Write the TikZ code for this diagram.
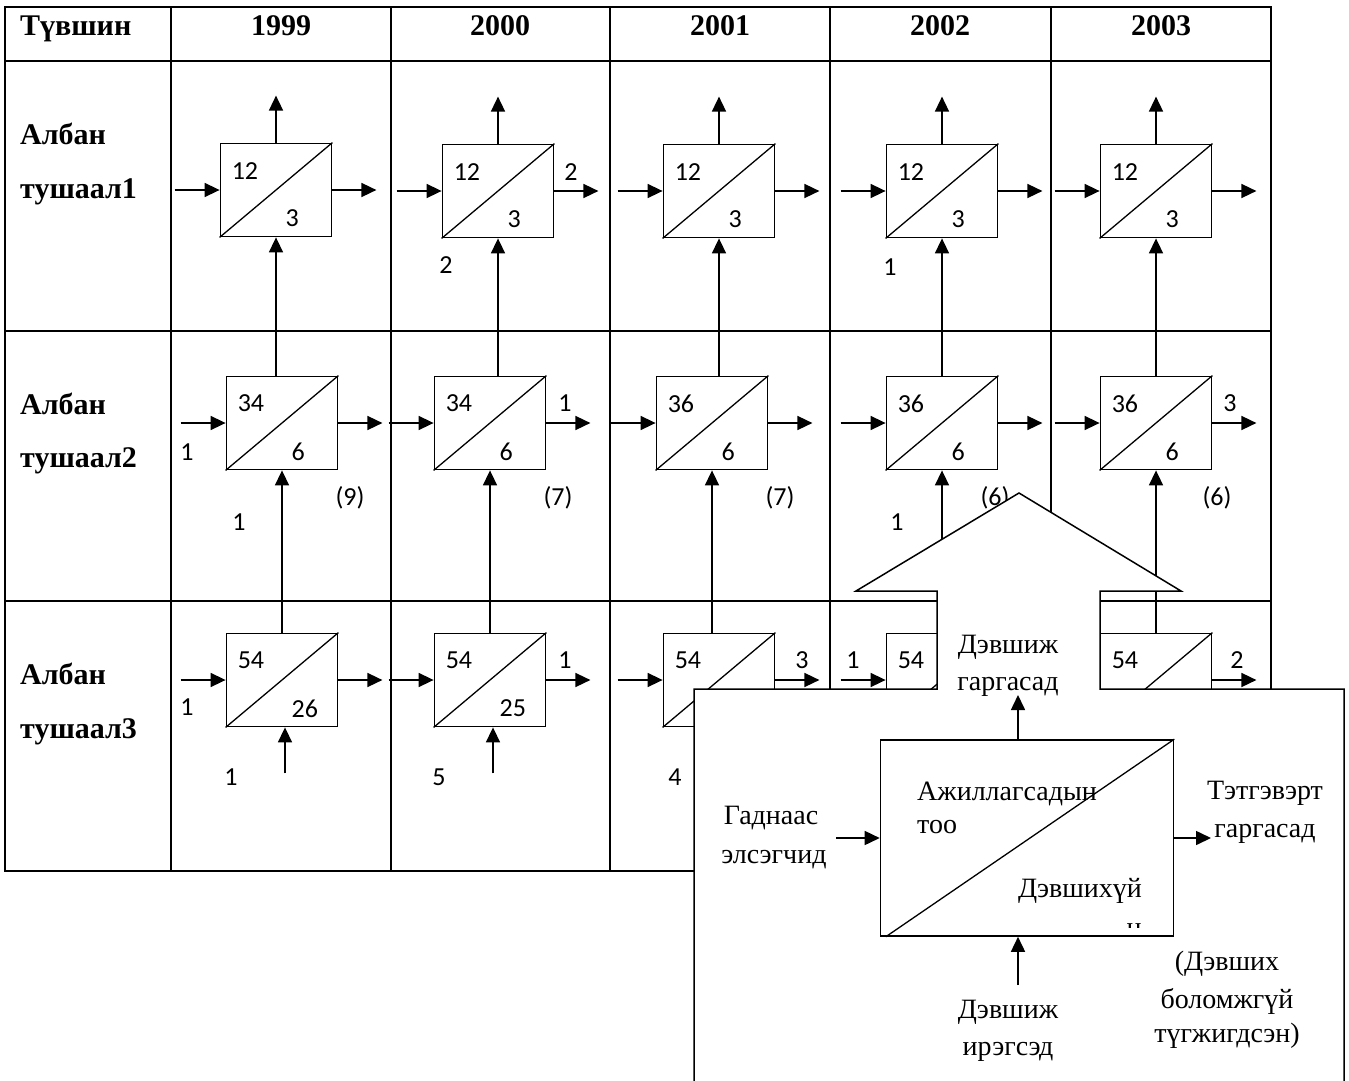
\documentclass[tikz,border=0pt]{standalone}
\usepackage{fontspec}
\setmainfont{Liberation Serif}
\newfontfamily\numfont{Carlito}
\usetikzlibrary{arrows.meta,calc}
\newcommand\mybox[5]{%
  \node[cell] (#1) at (#2,#3) {};
  \draw[diag] (#1.south west) -- (#1.north east);
  \node[num, anchor=west] (#1t) at ($(#1.north west)+(12,28)$) {#4};
  \node[num, anchor=west] (#1b) at ($(#1.south east)+(-47,-19)$) {#5};
}
\begin{document}
\begin{tikzpicture}[x=1pt,y=-1pt,
  grid/.style={line width=2.1pt},
  cell/.style={draw, line width=1.8pt, minimum width=111pt, minimum height=93pt, inner sep=0pt},
  diag/.style={line width=1.3pt},
  arr/.style={line width=1.6pt, -{Triangle[length=15pt,width=14pt]}},
  num/.style={font=\fontsize{26}{26}\selectfont\numfont, inner sep=0pt},
  hdr/.style={font=\fontsize{30}{30}\selectfont\bfseries, inner sep=0pt},
  lbl/.style={font=\fontsize{28}{28}\selectfont, inner sep=0pt}
]
\useasboundingbox (0,0) rectangle (1349,1081);
% table grid
\draw[grid] (5,7) rectangle (1271,871);
\foreach \yy in {61,331,601} \draw[grid] (5,\yy) -- (1271,\yy);
\foreach \xx in {171,391,610,830,1051} \draw[grid] (\xx,7) -- (\xx,871);
% header
\node[hdr, anchor=base west] (h0) at (20,36) {Түвшин};
\node[hdr, anchor=base] (h1) at (281,36) {1999};
\node[hdr, anchor=base] (h2) at (500,36) {2000};
\node[hdr, anchor=base] (h3) at (720,36) {2001};
\node[hdr, anchor=base] (h4) at (940,36) {2002};
\node[hdr, anchor=base] (h5) at (1161,36) {2003};
\node[hdr, anchor=base west] (l1a) at (20,144) {Албан};
\node[hdr, anchor=base west] (l1b) at (20,198) {тушаал1};
\node[hdr, anchor=base west] (l2a) at (20,414) {Албан};
\node[hdr, anchor=base west] (l2b) at (20,467) {тушаал2};
\node[hdr, anchor=base west] (l3a) at (20,684) {Албан};
\node[hdr, anchor=base west] (l3b) at (20,738) {тушаал3};
% boxes
\mybox{a1}{276}{190}{12}{3}
\mybox{b1}{498}{191}{12}{3}
\mybox{c1}{719}{191}{12}{3}
\mybox{d1}{942}{191}{12}{3}
\mybox{e1}{1156}{191}{12}{3}
\mybox{a2}{282}{423}{34}{6}
\mybox{b2}{490}{423}{34}{6}
\mybox{c2}{712}{423}{36}{6}
\mybox{d2}{942}{423}{36}{6}
\mybox{e2}{1156}{423}{36}{6}
\mybox{a3}{282}{680}{54}{26}
\mybox{b3}{490}{680}{54}{25}
\mybox{c3}{719}{680}{54}{}
\mybox{d3}{942}{680}{54}{}
\mybox{e3}{1156}{680}{54}{}
% horizontal arrows
\foreach \n in {a1,b1,c1,d1,e1,a2,b2,c2,d2,e2,a3,b3,c3,d3,e3}{
  \draw[arr] ($(\n.west)+(-45,0)$) -- (\n.west);
  \draw[arr] (\n.east) -- ++(44,0);
}
% top arrows
\foreach \n in {a1,b1,c1,d1,e1} \draw[arr] (\n.north) -- ++(0,-47);
% vertical connectors
\foreach \u/\l in {a1/a2,b1/b2,c1/c2,d1/d2,e1/e2,a2/a3,b2/b3,c2/c3,d2/d3,e2/e3}
  \draw[arr] (\l.north -| \u.south) -- (\u.south);
% bottom arrows row 3
\foreach \n in {a3,b3,c3} \draw[arr] ($(\n.south)+(3,46)$) -- ($(\n.south)+(3,0)$);
% extra labels
\node[num] (x1) at (571,172) {2};
\node[num] (x2) at (446,265) {2};
\node[num] (x3) at (890,267) {1};
\node[num] (x4) at (187,452) {1};
\node[num] (x5) at (239,522) {1};
\node[num] (x6) at (350,498) {(9)};
\node[num] (x7) at (565,403) {1};
\node[num] (x8) at (558,498) {(7)};
\node[num] (x9) at (780,498) {(7)};
\node[num] (x10) at (995,498) {(6)};
\node[num] (x11) at (897,522) {1};
\node[num] (x12) at (1230,403) {3};
\node[num] (x13) at (1217,498) {(6)};
\node[num] (x14) at (187,707) {1};
\node[num] (x15) at (231,777) {1};
\node[num] (x16) at (565,660) {1};
\node[num] (x17) at (439,777) {5};
\node[num] (x18) at (802,660) {3};
\node[num] (x19) at (675,777) {4};
\node[num] (x20) at (853,660) {1};
\node[num] (x21) at (1237,660) {2};
% big arrow + inset panel
\fill[white] (694,1090) -- (694,689) -- (937,689) -- (937,591) -- (856,591) -- (1019,493)
  -- (1181,591) -- (1100,591) -- (1100,689) -- (1344,689) -- (1344,1090) -- cycle;
\draw[line width=1.5pt, line join=miter] (694,1090) -- (694,689) -- (937,689) -- (937,591) -- (856,591) -- (1019,493)
  -- (1181,591) -- (1100,591) -- (1100,689) -- (1344,689) -- (1344,1090);
% inset box
\node[draw, line width=1.6pt, minimum width=293pt, minimum height=196pt, inner sep=0pt] (ib) at (1027,838) {};
\draw[diag] ($(ib.south west)+(6,0)$) -- (ib.north east);
\coordinate (upend) at (1018,695);
\coordinate (dnst) at (1018,985);
\coordinate (lst) at (836,838);
\coordinate (rend) at (1211,838);
\draw[arr] (upend |- ib.north) -- (upend);
\draw[arr] (dnst) -- (dnst |- ib.south);
\draw[arr] (lst) -- (ib.west);
\draw[arr] (ib.east) -- (rend);
\node[lbl, anchor=base] (t1) at (1008,653) {Дэвшиж};
\node[lbl, anchor=base] (t2) at (1008,690) {гаргасад};
\node[lbl, anchor=base west] (t3) at (917,800) {Ажиллагсадын};
\node[lbl, anchor=base west] (t4) at (917,833) {тоо};
\node[lbl, anchor=base] (t5) at (771,824) {Гаднаас};
\node[lbl, anchor=base] (t6) at (774,863) {элсэгчид};
\node[lbl, anchor=base] (t7) at (1265,799) {Тэтгэвэрт};
\node[lbl, anchor=base] (t8) at (1265,837) {гаргасад};
\node[lbl, anchor=base] (t9) at (1080,897) {Дэвшихүй};
\begin{scope}
\clip (1100,918) rectangle (1170,927);
\node[lbl, anchor=base] (t10) at (1134,936) {н};
\end{scope}
\node[lbl, anchor=base] (t11) at (1008,1018) {Дэвшиж};
\node[lbl, anchor=base] (t12) at (1008,1055) {ирэгсэд};
\node[lbl, anchor=base] (t13) at (1227,970) {(Дэвших};
\node[lbl, anchor=base] (t14) at (1227,1008) {боломжгүй};
\node[lbl, anchor=base] (t15) at (1227,1042) {түгжигдсэн)};
\end{tikzpicture}
\end{document}
